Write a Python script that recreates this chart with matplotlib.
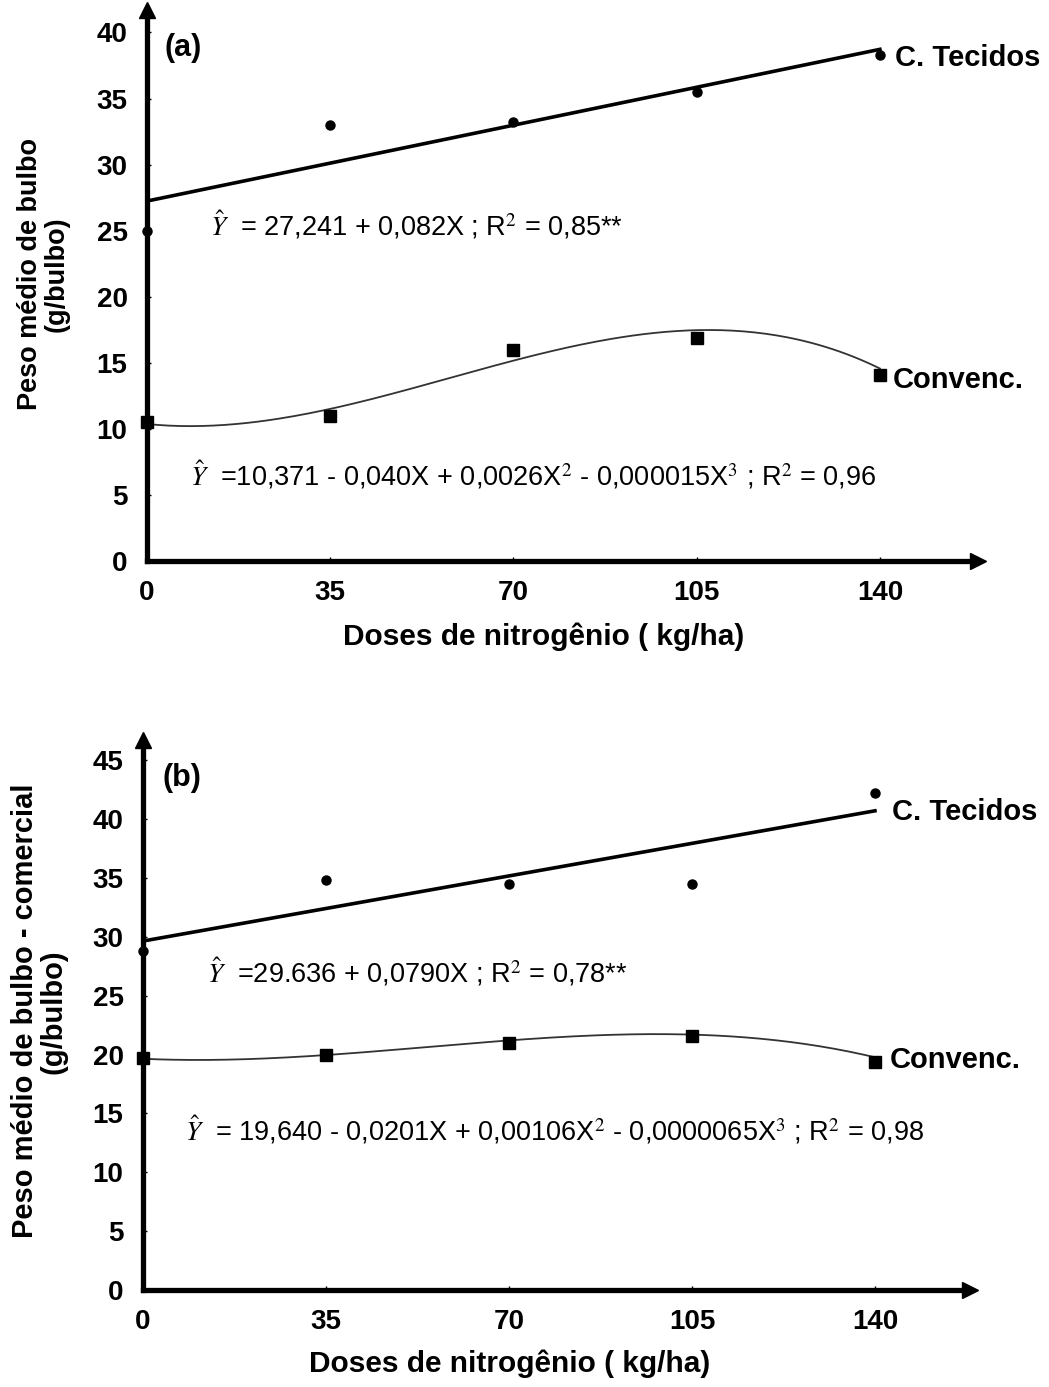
import matplotlib.pyplot as plt
import numpy as np

plt.rcParams['font.family'] = ['Liberation Sans', 'DejaVu Sans']
plt.rcParams['mathtext.fontset'] = 'stix'

doses = [0, 35, 70, 105, 140]

# (a) peso medio de bulbo
tec_a = [25.0, 33.0, 33.2, 35.5, 38.3]
conv_a = [10.5, 11.0, 16.0, 16.9, 14.1]
tec_a_coef = [27.241, 0.082]                        # b0, b1
conv_a_coef = [10.371, -0.040, 0.0026, -0.000015]   # b0..b3

# (b) peso medio de bulbo comercial
tec_b = [28.8, 34.8, 34.5, 34.5, 42.2]
conv_b = [19.7, 20.0, 21.0, 21.6, 19.4]
tec_b_coef = [29.636, 0.0790]
conv_b_coef = [19.640, -0.0201, 0.00106, -0.0000065]

eq_a1 = r'$\hat{Y}$  = 27,241 + 0,082X ; R$^2$ = 0,85**'
eq_a2 = r'$\hat{Y}$  =10,371 - 0,040X + 0,0026X$^2$ - 0,000015X$^3$ ; R$^2$ = 0,96'
eq_b1 = r'$\hat{Y}$  =29.636 + 0,0790X ; R$^2$ = 0,78**'
eq_b2 = r'$\hat{Y}$  = 19,640 - 0,0201X + 0,00106X$^2$ - 0,0000065X$^3$ ; R$^2$ = 0,98'


def fit(coef, x):
    return sum(c * x ** i for i, c in enumerate(coef))


def panel(ax, tec, conv, ctec, cconv, ymax, ytop, xtop, ylabel, ylsize, tag, eq1, eq2, pos):
    xs = np.linspace(0, 140, 200)
    ax.plot(xs, fit(ctec, xs), color='black', lw=2.6, zorder=3)
    ax.plot(xs, fit(cconv, xs), color='#333333', lw=1.3, zorder=3)
    ax.plot(doses, tec, 'o', color='black', ms=6.5, clip_on=False, zorder=4)
    ax.plot(doses, conv, 's', color='black', ms=8, clip_on=False, zorder=4)

    ax.set_xlim(0, xtop)
    ax.set_ylim(0, ytop)
    ax.set_xticks(doses)
    ax.set_yticks(np.arange(0, ymax + 1, 5))
    for s in ['top', 'right']:
        ax.spines[s].set_visible(False)
    for s in ['left', 'bottom']:
        ax.spines[s].set_linewidth(3.8)
    ax.plot(1, 0, '>k', ms=12, transform=ax.get_yaxis_transform(), clip_on=False)
    ax.plot(0, 1, '^k', ms=12, transform=ax.get_xaxis_transform(), clip_on=False)
    ax.tick_params(direction='in', length=3, width=1, labelsize=20, pad=14)
    for lab in ax.get_xticklabels() + ax.get_yticklabels():
        lab.set_fontweight('bold')

    ax.set_ylabel(ylabel, fontsize=ylsize, fontweight='bold', linespacing=1.05)
    ax.yaxis.set_label_coords(pos['ylab'][0], pos['ylab'][1])
    ax.set_xlabel('Doses de nitrogênio ( kg/ha)', fontsize=21.5, fontweight='bold')
    ax.xaxis.set_label_coords(pos['xlab'][0], pos['xlab'][1])

    ax.text(pos['tag'][0], pos['tag'][1], tag, fontsize=22, fontweight='bold', va='center')
    ax.text(pos['tec'][0], pos['tec'][1], 'C. Tecidos', fontsize=21, fontweight='bold', va='center')
    ax.text(pos['conv'][0], pos['conv'][1], 'Convenc.', fontsize=21, fontweight='bold', va='center')
    ax.text(pos['eq1'][0], pos['eq1'][1], eq1, fontsize=19.5, va='center')
    ax.text(pos['eq2'][0], pos['eq2'][1], eq2, fontsize=19.5, va='center')


fig = plt.figure(figsize=(10.49, 13.87), dpi=100)
ax1 = fig.add_axes([0.1401, 0.5955, 0.792, 0.3973])
ax2 = fig.add_axes([0.1363, 0.0699, 0.788, 0.3965])

panel(ax1, tec_a, conv_a, tec_a_coef, conv_a_coef, 40, 41.7, 158.7,
      'Peso médio de bulbo\n(g/bulbo)', 19.5, '(a)', eq_a1, eq_a2,
      {'tag': (3.4, 38.8), 'tec': (142.9, 38.1), 'conv': (142.5, 13.7),
       'eq1': (12.0, 25.4), 'eq2': (8.2, 6.5),
       'ylab': (-0.093, 0.52), 'xlab': (0.478, -0.111)})
panel(ax2, tec_b, conv_b, tec_b_coef, conv_b_coef, 45, 46.7, 158.1,
      'Peso médio de bulbo - comercial\n(g/bulbo)', 21, '(b)', eq_b1, eq_b2,
      {'tag': (3.8, 43.5), 'tec': (143.2, 40.6), 'conv': (142.8, 19.5),
       'eq1': (12.2, 27.0), 'eq2': (8.0, 13.6),
       'ylab': (-0.091, 0.507), 'xlab': (0.444, -0.109)})

fig.savefig('out.png', dpi=100)
